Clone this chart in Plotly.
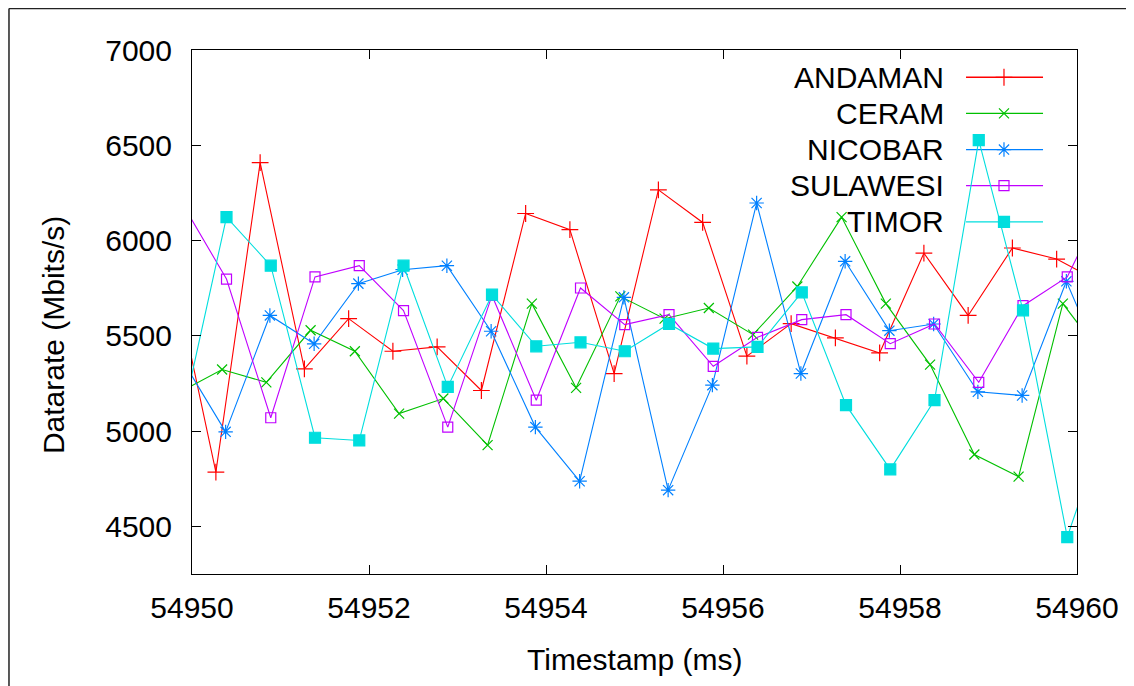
import plotly.graph_objects as go

# ---------------- data ----------------
series_names = ["ANDAMAN", "CERAM", "NICOBAR", "SULAWESI", "TIMOR"]

andaman_t = [54949.77, 54950.27, 54950.77, 54951.27, 54951.77, 54952.27, 54952.77, 54953.27,
             54953.77, 54954.27, 54954.77, 54955.27, 54955.77, 54956.27, 54956.77, 54957.27,
             54957.77, 54958.27, 54958.77, 54959.27, 54959.77, 54960.27]
andaman_v = [5874, 4785, 6409, 5327, 5590, 5419, 5442, 5213, 6142, 6057, 5302, 6266, 6095,
             5393, 5564, 5489, 5410, 5934, 5607, 5961, 5903, 5780]

ceram_t = [54949.84, 54950.34, 54950.84, 54951.34, 54951.84, 54952.34, 54952.84, 54953.34,
           54953.84, 54954.34, 54954.84, 54955.34, 54955.84, 54956.34, 54956.84, 54957.34,
           54957.84, 54958.34, 54958.84, 54959.34, 54959.84, 54960.34]
ceram_v = [5199, 5323, 5256, 5529, 5419, 5092, 5171, 4926, 5669, 5227, 5707, 5590, 5646,
           5506, 5759, 6123, 5669, 5349, 4877, 4761, 5669, 5363]

nicobar_t = [54949.88, 54950.38, 54950.88, 54951.38, 54951.88, 54952.38, 54952.88, 54953.38,
             54953.88, 54954.38, 54954.88, 54955.38, 54955.88, 54956.38, 54956.88, 54957.38,
             54957.88, 54958.38, 54958.88, 54959.38, 54959.88, 54960.38]
nicobar_v = [5381, 4996, 5607, 5458, 5774, 5847, 5868, 5524, 5021, 4737, 5702, 4690, 5241,
             6197, 5302, 5891, 5527, 5562, 5206, 5187, 5786, 5245]

sulawesi_t = [54949.89, 54950.39, 54950.89, 54951.39, 54951.89, 54952.39, 54952.89, 54953.39,
              54953.89, 54954.39, 54954.89, 54955.39, 54955.89, 54956.39, 54956.89, 54957.39,
              54957.89, 54958.39, 54958.89, 54959.39, 54959.89, 54960.39]
sulawesi_v = [6194, 5798, 5070, 5809, 5868, 5632, 5021, 5712, 5162, 5751, 5559, 5611, 5340,
              5492, 5585, 5611, 5459, 5562, 5256, 5658, 5809, 6287]

timor_t = [54949.89, 54950.39, 54950.89, 54951.39, 54951.89, 54952.39, 54952.89, 54953.39,
           54953.89, 54954.39, 54954.89, 54955.39, 54955.89, 54956.39, 54956.89, 54957.39,
           54957.89, 54958.39, 54958.89, 54959.39, 54959.89, 54960.39]
timor_v = [5068, 6123, 5868, 4965, 4951, 5868, 5232, 5716, 5445, 5466, 5419, 5562, 5433,
           5442, 5728, 5136, 4799, 5162, 6527, 5634, 4444, 5125]

x_tick_vals = [54950, 54952, 54954, 54956, 54958, 54960]
x_tick_text = ["54950", "54952", "54954", "54956", "54958", "54960"]
y_tick_vals = [4500, 5000, 5500, 6000, 6500, 7000]
y_tick_text = ["4500", "5000", "5500", "6000", "6500", "7000"]

X_RANGE = [54950, 54960]
Y_RANGE = [4250, 7000]

# ---------------- styles ----------------
colors = ["#ff0000", "#00c000", "#0080ff", "#c000ff", "#00dede"]
symbols = ["cross-thin-open", "x-thin-open", "asterisk-open", "square-open", "square"]
msizes = [12, 10, 12, 10, 11]
FONT = "Liberation Sans, Arial, sans-serif"

data_t = [andaman_t, ceram_t, nicobar_t, sulawesi_t, timor_t]
data_v = [andaman_v, ceram_v, nicobar_v, sulawesi_v, timor_v]

# legend layout in paper fractions
leg_rows = [0.948, 0.879, 0.810, 0.741, 0.672]
leg_x0, leg_x1, leg_xm, leg_tx = 0.8746, 0.9616, 0.9175, 0.852


def px(fx):
    return X_RANGE[0] + fx * (X_RANGE[1] - X_RANGE[0])


def py(fy):
    return Y_RANGE[0] + fy * (Y_RANGE[1] - Y_RANGE[0])


fig = go.Figure()
annotations = []
for i, name in enumerate(series_names):
    c = colors[i]
    mline = dict(color=c, width=1.2)
    # legend sample line
    fig.add_trace(go.Scatter(
        x=[px(leg_x0), px(leg_x1)], y=[py(leg_rows[i])] * 2, mode="lines",
        line=dict(color=c, width=1.3), showlegend=False, hoverinfo="skip"))
    fig.add_trace(go.Scatter(
        x=[px(leg_xm)], y=[py(leg_rows[i])], mode="markers",
        marker=dict(symbol=symbols[i], size=msizes[i], color=c, line=mline),
        showlegend=False, hoverinfo="skip"))
    # data
    fig.add_trace(go.Scatter(
        x=data_t[i], y=data_v[i], mode="lines+markers", name=name,
        line=dict(color=c, width=1.1),
        marker=dict(symbol=symbols[i], size=msizes[i], color=c, line=mline),
        showlegend=False))
    annotations.append(dict(
        x=leg_tx, y=leg_rows[i], xref="paper", yref="paper", text=name,
        showarrow=False, xanchor="right", yanchor="middle",
        font=dict(family=FONT, size=30, color="black")))

annotations.append(dict(
    x=0.5, y=-0.164, xref="paper", yref="paper", text="Timestamp (ms)",
    showarrow=False, xanchor="center", yanchor="middle",
    font=dict(family=FONT, size=30, color="black")))
annotations.append(dict(
    x=-0.157, y=0.456, xref="paper", yref="paper", text="Datarate (Mbits/s)",
    showarrow=False, xanchor="center", yanchor="middle", textangle=-90,
    font=dict(family=FONT, size=30, color="black")))

axis_common = dict(
    showgrid=False, zeroline=False, showline=True, linecolor="black", linewidth=1,
    mirror="ticks", ticks="inside", ticklen=9, tickcolor="black", tickwidth=1,
    tickfont=dict(family=FONT, size=30, color="black"))

# page body has an 8px margin, so the figure is 8px smaller and margins shifted
fig.update_layout(
    width=1126, height=678,
    margin=dict(l=184, r=57, t=42, b=112),
    paper_bgcolor="white", plot_bgcolor="white",
    showlegend=False,
    xaxis=dict(range=X_RANGE, tickvals=x_tick_vals, ticktext=x_tick_text,
               ticklabelstandoff=7, **axis_common),
    yaxis=dict(range=Y_RANGE, tickvals=y_tick_vals, ticktext=y_tick_text,
               ticklabelstandoff=13, **axis_common),
    annotations=annotations,
    shapes=[
        dict(type="line", xref="paper", yref="paper", x0=-0.2068, x1=-0.2068,
             y0=-0.3, y1=1.079, line=dict(color="#222222", width=1.5)),
        dict(type="line", xref="paper", yref="paper", x0=-0.2068, x1=1.2,
             y0=1.079, y1=1.079, line=dict(color="#222222", width=1.5)),
    ],
)

fig.write_html("out.html")
